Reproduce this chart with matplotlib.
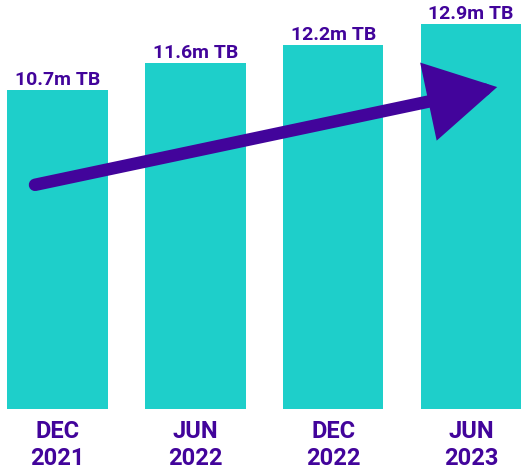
import matplotlib.pyplot as plt
from matplotlib.patches import FancyArrowPatch

periods = ["DEC\n2021", "JUN\n2022", "DEC\n2022", "JUN\n2023"]
storage_tb = [10.7, 11.6, 12.2, 12.9]
value_labels = ["10.7m TB", "11.6m TB", "12.2m TB", "12.9m TB"]

teal = "#1ecfca"
purple = "#42049b"

plt.rcParams["font.family"] = ["Roboto", "DejaVu Sans"]

fig = plt.figure(figsize=(5.22, 4.72), dpi=100)
ax = fig.add_axes([0, 63 / 472, 1, 409 / 472])

x = list(range(len(periods)))
ax.bar(x, storage_tb, width=0.73, color=teal)

for xi, v, lab in zip(x, storage_tb, value_labels):
    ax.annotate(lab, (xi, v), xytext=(0, 1), textcoords="offset points",
                ha="center", va="bottom", fontsize=14, fontweight="bold",
                color=purple)

# growth arrow drawn across the bars
arrow = FancyArrowPatch((-0.163, 7.52), (3.19, 10.8),
                        arrowstyle="-|>,head_length=37,head_width=21",
                        mutation_scale=1, lw=9, color=purple,
                        capstyle="round", joinstyle="miter",
                        shrinkA=0, shrinkB=0, zorder=3)
ax.add_patch(arrow)

ax.set_xlim(-0.417, 3.37)
ax.set_ylim(0, 13.72)
ax.set_xticks(x)
ax.set_xticklabels(periods, fontsize=17, fontweight="bold", color=purple,
                   linespacing=1.2)
ax.tick_params(axis="x", length=0, pad=8)
ax.set_yticks([])
for s in ax.spines.values():
    s.set_visible(False)

fig.savefig("out.png", dpi=100)
